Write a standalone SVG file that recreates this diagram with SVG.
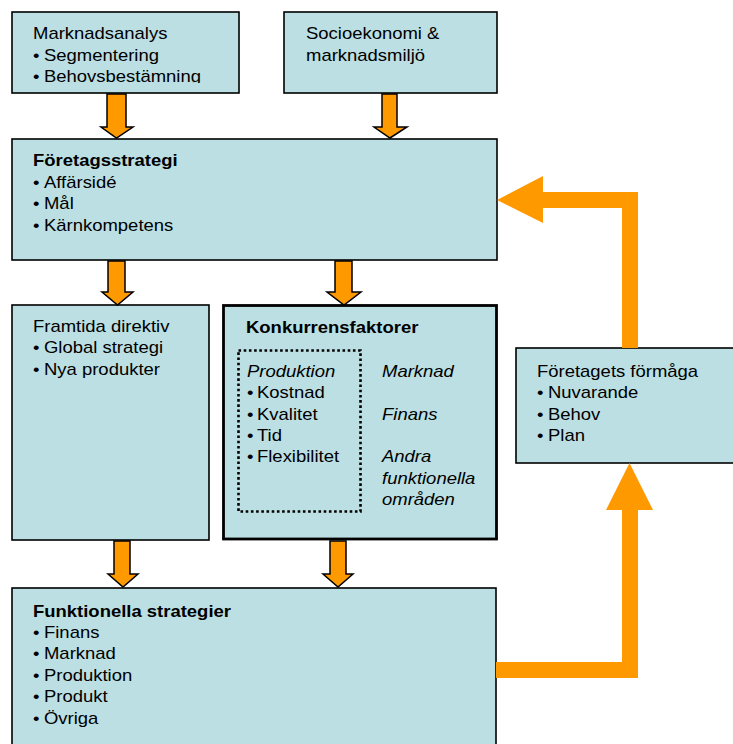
<svg xmlns="http://www.w3.org/2000/svg" width="733" height="744" viewBox="0 0 733 744">
  <style>
    .box { fill: #BBDFE2; stroke: #000; stroke-width: 1.6; }
    .box-thick { fill: #BBDFE2; stroke: #000; stroke-width: 2.8; }
    .dotted { fill: none; stroke: #000; stroke-width: 2.6; stroke-dasharray: 2.6 2.6; }
    .t { font-family: "Liberation Sans", Arial, sans-serif; font-size: 16px; fill: #000; }
    .b { font-weight: bold; }
    .i { font-style: italic; }
    .down { fill: #FF9900; stroke: #000; stroke-width: 1.5; stroke-linejoin: miter; }
    .flow { fill: #FF9900; stroke: none; }
  </style>
  <defs>
    <clipPath id="clip-top-left">
      <rect x="12" y="12" width="228" height="71"/>
    </clipPath>
  </defs>

  <rect width="733" height="744" fill="#fff"/>

  <!-- text is set slightly wide: each line is anchored with translate() then stretched 1.155x horizontally -->

  <g id="marknadsanalys">
    <rect class="box" x="12" y="12" width="227" height="81"/>
    <g clip-path="url(#clip-top-left)">
      <text class="t" transform="translate(33 0) scale(1.155 1)" y="39.5">Marknadsanalys</text>
      <text class="t" transform="translate(33 0) scale(1.155 1)" y="61">•<tspan x="9.52">Segmentering</tspan></text>
      <text class="t" transform="translate(33 0) scale(1.155 1)" y="82.5">•<tspan x="9.52">Behovsbestämning</tspan></text>
    </g>
  </g>

  <g id="socioekonomi">
    <rect class="box" x="284" y="12" width="213" height="81"/>
    <text class="t" transform="translate(306 0) scale(1.155 1)" y="39.5">Socioekonomi &amp;</text>
    <text class="t" transform="translate(306 0) scale(1.155 1)" y="61.5">marknadsmiljö</text>
  </g>

  <g id="foretagsstrategi">
    <rect class="box" x="12" y="139" width="485" height="121"/>
    <text class="t b" transform="translate(33 0) scale(1.155 1)" y="166">Företagsstrategi</text>
    <text class="t" transform="translate(33 0) scale(1.155 1)" y="188">•<tspan x="9.52">Affärsidé</tspan></text>
    <text class="t" transform="translate(33 0) scale(1.155 1)" y="209.5">•<tspan x="9.52">Mål</tspan></text>
    <text class="t" transform="translate(33 0) scale(1.155 1)" y="231">•<tspan x="9.52">Kärnkompetens</tspan></text>
  </g>

  <g id="framtida-direktiv">
    <rect class="box" x="12" y="305" width="197" height="235"/>
    <text class="t" transform="translate(33 0) scale(1.155 1)" y="332">Framtida direktiv</text>
    <text class="t" transform="translate(33 0) scale(1.155 1)" y="353.5">•<tspan x="9.52">Global strategi</tspan></text>
    <text class="t" transform="translate(33 0) scale(1.155 1)" y="375">•<tspan x="9.52">Nya produkter</tspan></text>
  </g>

  <g id="konkurrensfaktorer">
    <rect class="box-thick" x="223.5" y="305.5" width="273" height="233.5"/>
    <text class="t b" transform="translate(246 0) scale(1.155 1)" y="333">Konkurrensfaktorer</text>
    <rect class="dotted" x="238.5" y="350.5" width="122" height="161"/>
    <text class="t i" transform="translate(247 0) scale(1.155 1)" y="377">Produktion</text>
    <text class="t" transform="translate(247 0) scale(1.155 1)" y="398.5">•<tspan x="8.66">Kostnad</tspan></text>
    <text class="t" transform="translate(247 0) scale(1.155 1)" y="420">•<tspan x="8.66">Kvalitet</tspan></text>
    <text class="t" transform="translate(247 0) scale(1.155 1)" y="441.5">•<tspan x="8.66">Tid</tspan></text>
    <text class="t" transform="translate(247 0) scale(1.155 1)" y="462.5">•<tspan x="8.66">Flexibilitet</tspan></text>
    <text class="t i" transform="translate(382 0) scale(1.155 1)" y="377">Marknad</text>
    <text class="t i" transform="translate(382 0) scale(1.155 1)" y="420">Finans</text>
    <text class="t i" transform="translate(382 0) scale(1.155 1)" y="462.5">Andra</text>
    <text class="t i" transform="translate(382 0) scale(1.155 1)" y="484">funktionella</text>
    <text class="t i" transform="translate(382 0) scale(1.155 1)" y="505.5">områden</text>
  </g>

  <g id="foretagets-formaga">
    <rect class="box" x="516" y="348" width="230" height="115"/>
    <text class="t" transform="translate(537 0) scale(1.155 1)" y="377">Företagets förmåga</text>
    <text class="t" transform="translate(537 0) scale(1.155 1)" y="398.5">•<tspan x="9.52">Nuvarande</tspan></text>
    <text class="t" transform="translate(537 0) scale(1.155 1)" y="420">•<tspan x="9.52">Behov</tspan></text>
    <text class="t" transform="translate(537 0) scale(1.155 1)" y="441.5">•<tspan x="9.52">Plan</tspan></text>
  </g>

  <g id="funktionella-strategier">
    <rect class="box" x="12" y="588" width="484" height="170"/>
    <text class="t b" transform="translate(33 0) scale(1.155 1)" y="617">Funktionella strategier</text>
    <text class="t" transform="translate(33 0) scale(1.155 1)" y="638">•<tspan x="9.52">Finans</tspan></text>
    <text class="t" transform="translate(33 0) scale(1.155 1)" y="659.5">•<tspan x="9.52">Marknad</tspan></text>
    <text class="t" transform="translate(33 0) scale(1.155 1)" y="681">•<tspan x="9.52">Produktion</tspan></text>
    <text class="t" transform="translate(33 0) scale(1.155 1)" y="702.5">•<tspan x="9.52">Produkt</tspan></text>
    <text class="t" transform="translate(33 0) scale(1.155 1)" y="724">•<tspan x="9.52">Övriga</tspan></text>
  </g>

  <g id="connectors">
    <!-- block arrows between stacked boxes -->
    <polygon class="down" points="107,94 126,94 126,127 133,127 116.5,138 101,127 107,127"/>
    <polygon class="down" points="382,94 397,94 397,127 407,127 390,138 374,127 382,127"/>
    <polygon class="down" points="108,261 125,261 125,292 133,292 117.5,305 102,292 108,292"/>
    <polygon class="down" points="335,261 352,261 352,292 361,292 344,305 327,292 335,292"/>
    <polygon class="down" points="114,541 130,541 130,574 138,574 123,587 108,574 114,574"/>
    <polygon class="down" points="330,541 346,541 346,574 353,574 338,587 323,574 330,574"/>
    <!-- feedback loop: functional strategies -> capability -> corporate strategy -->
    <polygon class="flow" points="496,662 622,662 622,510 606,510 629.5,463 653,510 638,510 638,678 496,678"/>
    <polygon class="flow" points="622,348 622,208 543,208 543,223 497,200 543,176 543,192 638,192 638,348"/>
  </g>
</svg>
